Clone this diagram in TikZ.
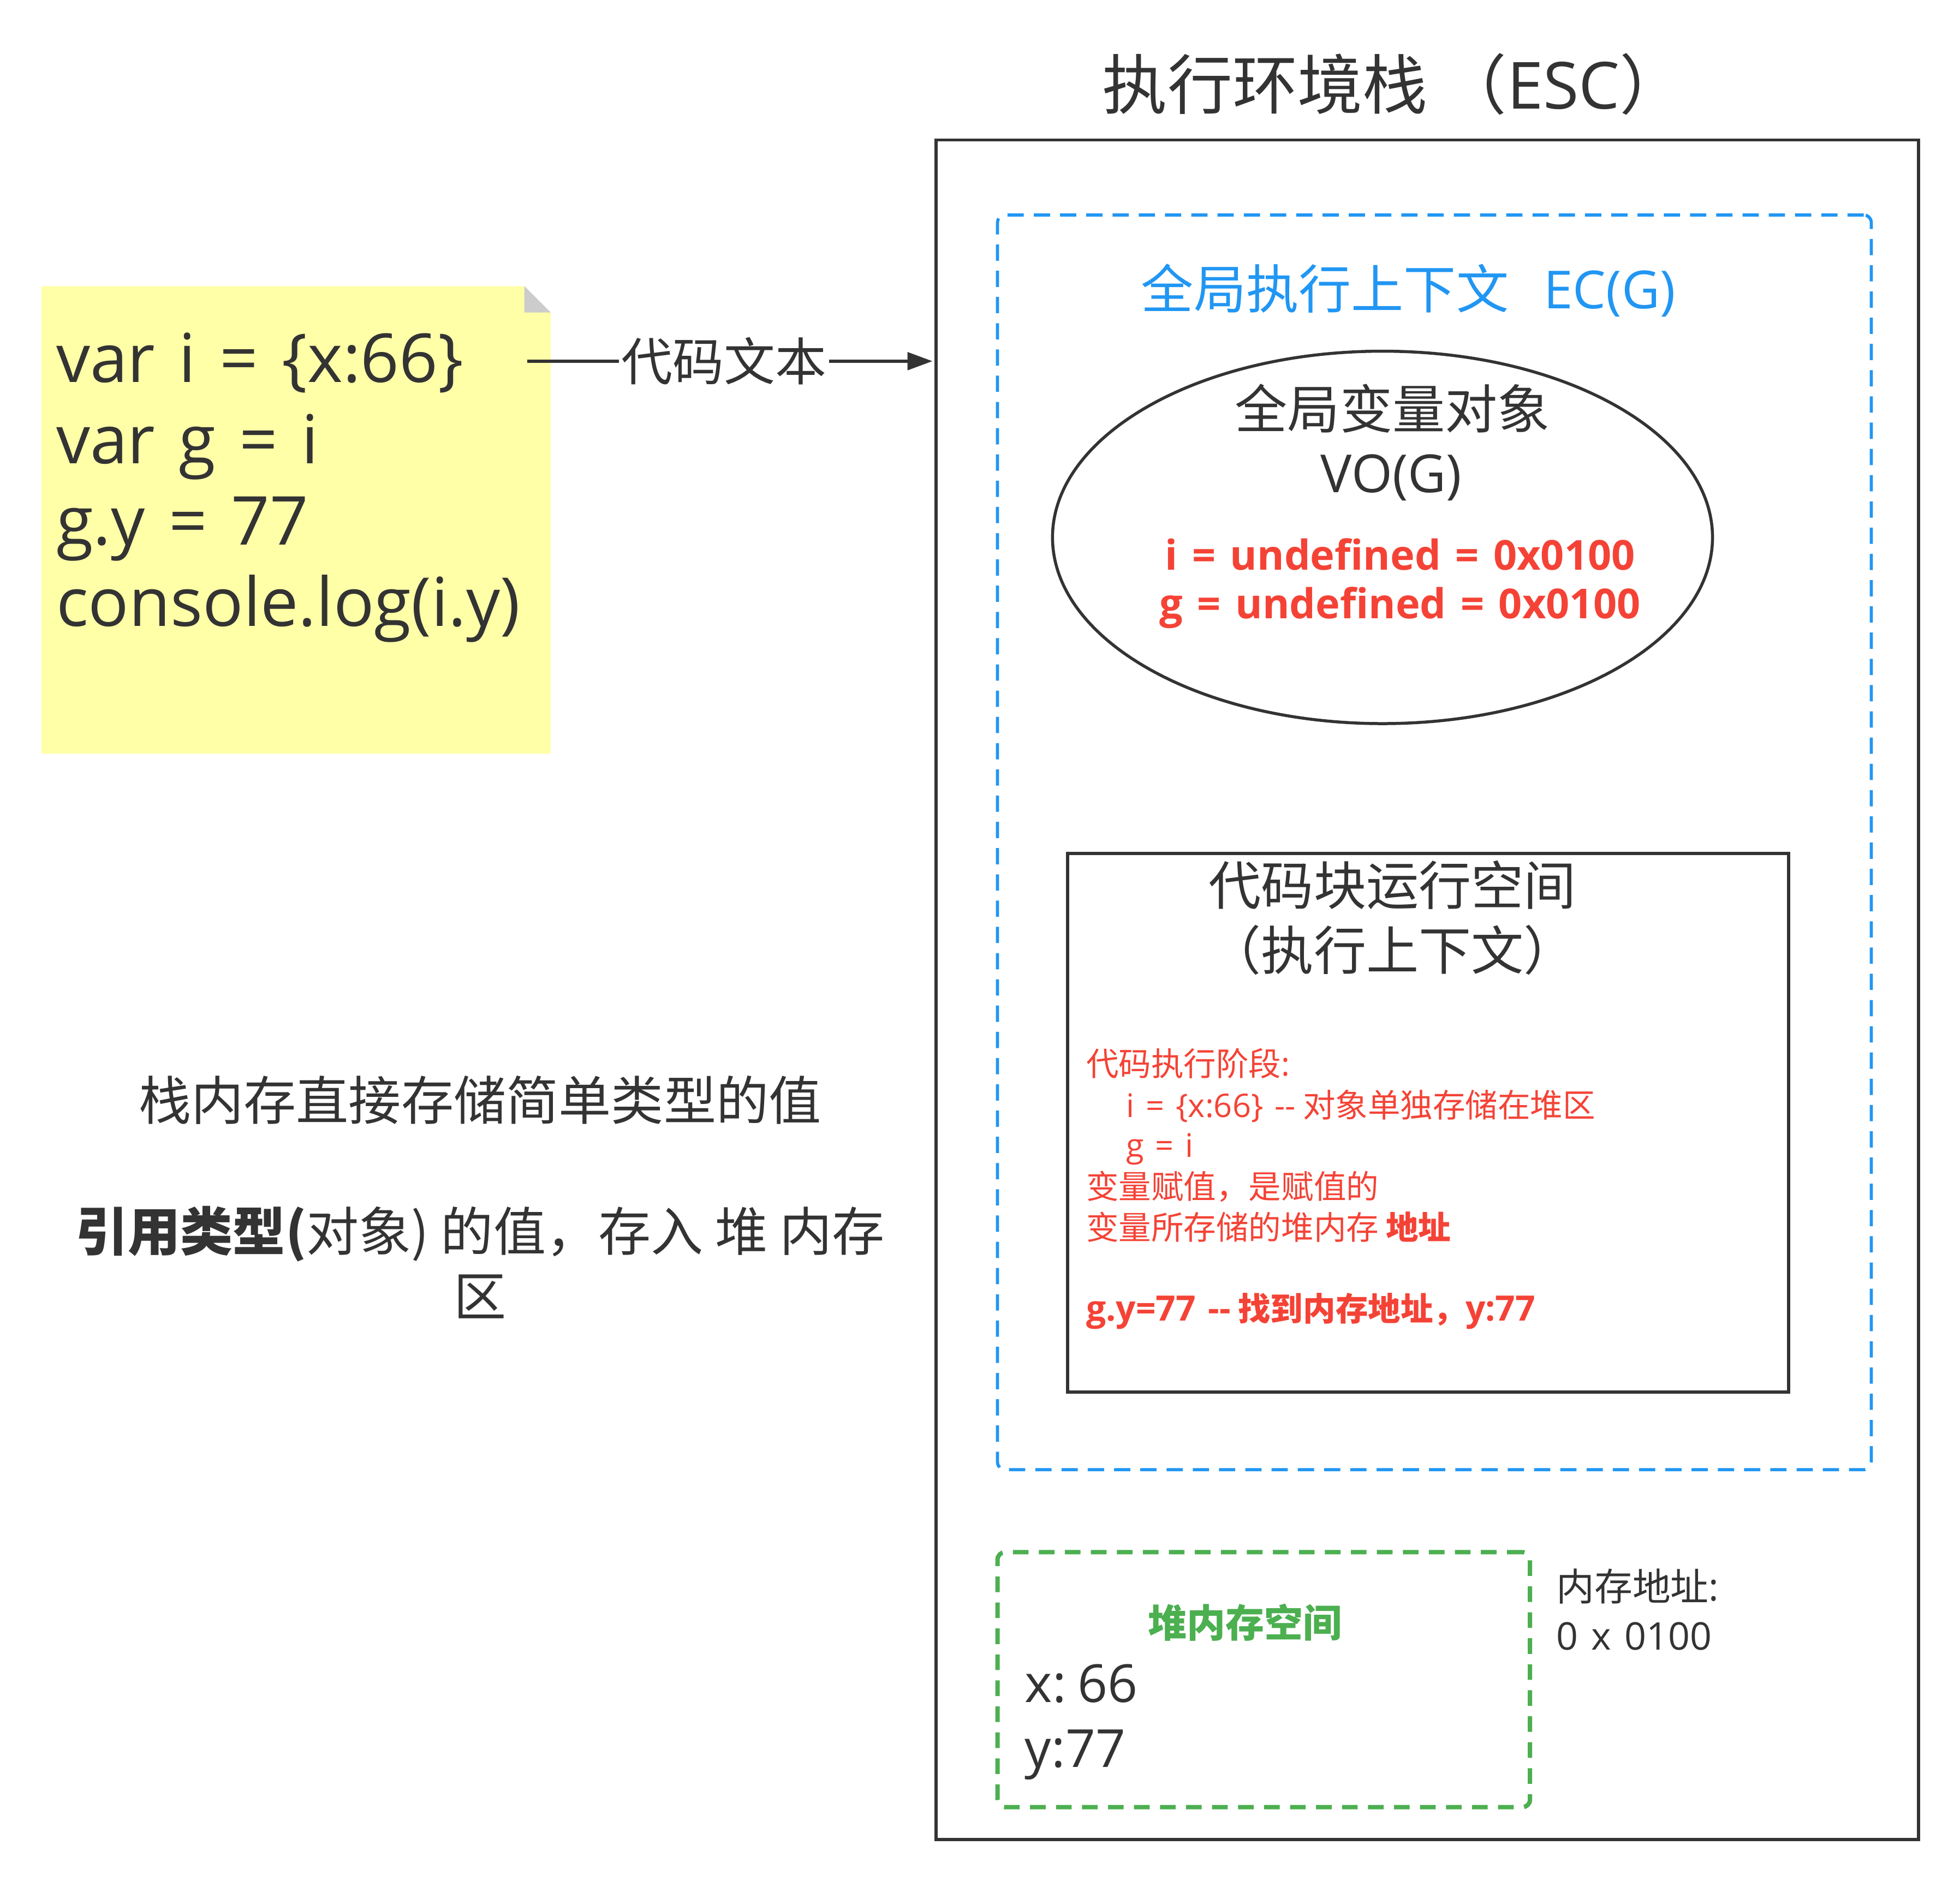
\documentclass[tikz,border=0pt]{standalone}
\usepackage{fontspec}
\setmainfont{Noto Sans CJK SC}
\newfontfamily\latn[WordSpace=1.35]{Open Sans}
\usetikzlibrary{arrows.meta,shapes.geometric}
\definecolor{dk}{HTML}{333333}
\definecolor{bl}{HTML}{2196F3}
\definecolor{rd}{HTML}{F44336}
\definecolor{gr}{HTML}{4CAF50}
\definecolor{ny}{HTML}{FFFFA8}
\definecolor{ng}{HTML}{CCCCCC}
\newcommand\fsz[1]{\fontsize{#1}{#1}\selectfont}
\begin{document}
\begin{tikzpicture}[x=1pt,y=-1pt,
  tx/.style={inner sep=0pt, outer sep=0pt, text=dk},
  box/.style={draw=dk, line width=2.6pt, inner sep=0pt, outer sep=0pt, anchor=north west},
  bluebox/.style={box, draw=bl, line width=2.5pt, dash pattern=on 13pt off 8pt, rounded corners=6pt},
  greenbox/.style={box, draw=gr, line width=3.5pt, dash pattern=on 12.5pt off 8.3pt, rounded corners=6pt},
  codeline/.style={tx, anchor=base west, font=\latn\fsz{54}},
  redline/.style={tx, anchor=base west, text=rd, font=\fsz{26}},
  bigtxt/.style={tx, anchor=base, font=\fsz{42}}]
\useasboundingbox (0,0) rectangle (1568,1504.7);

% sticky note
\fill[ny] (33,229) -- (419.5,229) -- (440.5,250) -- (440.5,603) -- (33,603) -- cycle;
\fill[ng] (419.5,229) -- (419.5,250) -- (440.5,250) -- cycle;
\node[codeline] (c1) at (45,306) {var i = \{x:66\}};
\node[codeline] (c2) at (45,371) {var g = i};
\node[codeline] (c3) at (45,436) {g.y = 77};
\node[codeline] (c4) at (45,501) {console.log(i.y)};

% containers
\node[box, minimum width=786pt, minimum height=1360pt] (esc) at (749,112) {};
\node[bluebox, minimum width=699pt, minimum height=1004pt] (ecg) at (798,172) {};
\node[draw=dk, line width=2.4pt, ellipse, minimum width=528pt, minimum height=298pt, inner sep=0pt] (vo) at (1106,430) {};
\node[box, minimum width=577pt, minimum height=431pt] (run) at (854,683) {};
\node[greenbox, minimum width=426pt, minimum height=204pt] (heap) at (798,1242) {};

% arrow
\coordinate (as) at (422,289);
\coordinate (ae) at (746,289);
\draw[dk, line width=2.5pt, -{Triangle[length=20pt,width=14pt]}] (as) -- node[pos=0.485, fill=white, inner sep=2pt, text=dk, font=\fsz{41}] (lbl) {代码文本} (ae);

% title
\node[tx, anchor=base west, font=\fsz{52}] (title) at (882,87) {执行环境栈 （{\latn ESC}）};
\node[tx, anchor=base west, text=bl, font=\fsz{42}] (ectit) at (913,247) {全局执行上下文\hspace{28pt}{\latn EC(G)}};

% VO
\node[bigtxt] (vo1) at (1114,343) {全局变量对象};
\node[bigtxt, font=\latn\fsz{42}] (vo2) at (1113,394) {VO(G)};
\node[tx, anchor=base, text=rd, font=\latn\bfseries\fsz{33}] (vi) at (1120,456) {i = undefined = 0x0100};
\node[tx, anchor=base, text=rd, font=\latn\bfseries\fsz{33}] (vg) at (1120,495) {g = undefined = 0x0100};

% run space
\node[bigtxt] (run1) at (1114,724) {代码块运行空间};
\node[bigtxt] (run2) at (1114,776) {（执行上下文）};
\node[redline] (r1) at (869,861) {代码执行阶段{\latn :}};
\node[redline] (r2) at (901,894) {{\latn i = \{x:66\} -{}-} 对象单独存储在堆区};
\node[redline] (r3) at (901,926) {{\latn g = i}};
\node[redline] (r4) at (869,959) {变量赋值，是赋值的};
\node[redline] (r5) at (869,992) {变量所存储的堆内存 \textbf{地址}};
\node[redline] (r6) at (869,1057) {\textbf{{\latn\bfseries\fsz{28}g.y=77 -{}-} 找到内存地址，{\latn\bfseries\fsz{28}y:77}}};

% left notes
\node[bigtxt] (s1) at (384,896) {栈内存直接存储简单类型的值};
\node[bigtxt] (s2) at (384,1001) {\textbf{引用类型(}对象) 的值，存入 堆 内存};
\node[bigtxt] (s3) at (384,1053) {区};

% heap
\node[tx, anchor=base, text=gr, font=\bfseries\fsz{31}] (h0) at (996,1310) {堆内存空间};
\node[tx, anchor=base west, font=\latn\fsz{42}] (hx) at (820,1362) {x:\hspace{9pt}66};
\node[tx, anchor=base west, font=\latn\fsz{42}] (hy) at (820,1414) {y:77};
\node[tx, anchor=base west, font=\fsz{30.5}] (ad1) at (1245,1281) {内存地址{\latn :}};
\node[tx, anchor=base west, font=\latn\fsz{30.5}] (ad2) at (1245,1320) {0 x 0100};
\end{tikzpicture}
\end{document}
